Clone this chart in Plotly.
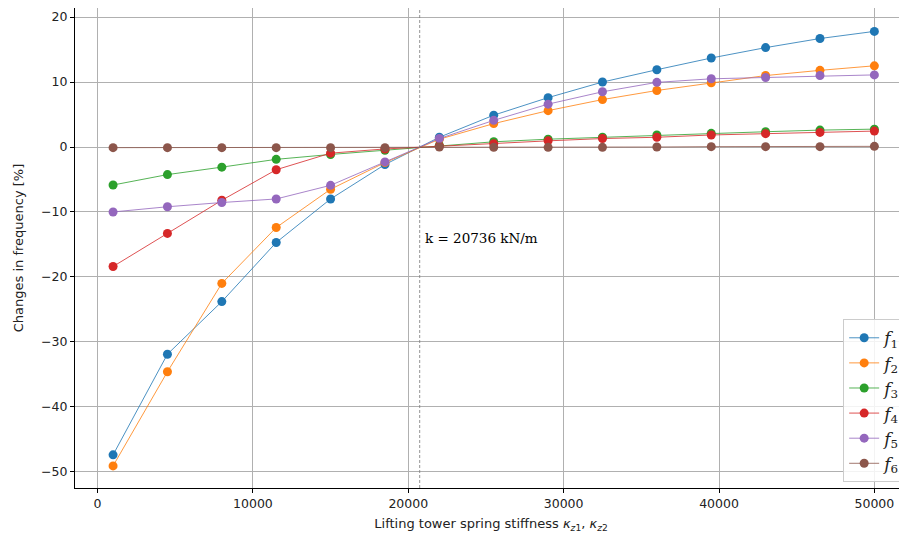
import plotly.graph_objects as go

stiffness = [1000, 4500, 8000, 11500, 15000, 18500, 22000, 25500, 29000, 32500, 36000, 39500, 43000, 46500, 50000]
f1 = [-47.4, -31.9, -23.8, -14.7, -8.0, -2.7, 1.5, 4.9, 7.6, 10.0, 11.9, 13.7, 15.3, 16.7, 17.8]
f2 = [-49.1, -34.6, -21.0, -12.4, -6.5, -2.4, 1.2, 3.6, 5.6, 7.3, 8.7, 9.9, 11.0, 11.8, 12.5]
f3 = [-5.85, -4.25, -3.1, -1.9, -1.15, -0.5, 0.25, 0.8, 1.2, 1.5, 1.85, 2.1, 2.35, 2.6, 2.75]
f4 = [-18.4, -13.3, -8.2, -3.5, -0.95, -0.3, 0.15, 0.5, 0.95, 1.3, 1.5, 1.85, 2.05, 2.25, 2.45]
f5 = [-10.0, -9.2, -8.55, -8.0, -5.9, -2.3, 1.3, 4.1, 6.6, 8.5, 9.95, 10.5, 10.7, 11.0, 11.1]
f6 = [-0.1, -0.1, -0.1, -0.1, -0.1, -0.1, 0.0, -0.05, -0.05, -0.05, 0.0, 0.05, 0.05, 0.05, 0.1]
series = [f1, f2, f3, f4, f5, f6]
names = ["<i>f</i><sub>1</sub>", "<i>f</i><sub>2</sub>", "<i>f</i><sub>3</sub>",
         "<i>f</i><sub>4</sub>", "<i>f</i><sub>5</sub>", "<i>f</i><sub>6</sub>"]
colors = ["#1f77b4", "#ff7f0e", "#2ca02c", "#d62728", "#9467bd", "#8c564b"]
line_colors = ["rgba(31,119,180,0.8)", "rgba(255,127,14,0.8)", "rgba(44,160,44,0.8)",
               "rgba(214,39,40,0.8)", "rgba(148,103,189,0.8)", "rgba(140,86,75,0.8)"]
k_value = 20736
x_ticks = [0, 10000, 20000, 30000, 40000, 50000]
y_ticks = [-50, -40, -30, -20, -10, 0, 10, 20]

fig = go.Figure()
for vals, name, c, lc in zip(series, names, colors, line_colors):
    fig.add_trace(go.Scatter(
        x=stiffness, y=vals, name=name, mode="lines+markers",
        line=dict(color=lc, width=1),
        marker=dict(color=c, size=9),
    ))

fig.add_shape(type="line", x0=k_value, x1=k_value, y0=0, y1=1, xref="x", yref="paper",
              line=dict(color="#777777", width=0.8, dash="3px,2px"), layer="above")
fig.add_annotation(x=k_value, y=-14.0, xref="x", yref="y", text="k = 20736 kN/m",
                   showarrow=False, xanchor="left", xshift=3,
                   font=dict(family="DejaVu Serif", size=13.5, color="black"))

axis_common = dict(
    showgrid=True, gridcolor="#b0b0b0", gridwidth=0.8,
    showline=True, linecolor="black", linewidth=1, mirror=True,
    ticks="outside", ticklen=4, tickcolor="black", zeroline=False,
    tickfont=dict(family="DejaVu Sans", size=12.5, color="#222"),
)
fig.update_xaxes(range=[-1450, 52100], tickvals=x_ticks, ticktext=[str(v) for v in x_ticks],
                 title=dict(text="Lifting tower spring stiffness <i>κ</i><sub><i>z</i>1</sub>, <i>κ</i><sub><i>z</i>2</sub>",
                            font=dict(family="DejaVu Sans", size=13, color="#222"), standoff=10),
                 **axis_common)
fig.update_yaxes(range=[-52.5, 21.4], tickvals=y_ticks,
                 ticktext=[("\u2212" + str(-v)) if v < 0 else str(v) for v in y_ticks],
                 title=dict(text="Changes in frequency [%]",
                            font=dict(family="DejaVu Sans", size=13, color="#222"), standoff=14),
                 **axis_common)

fig.update_layout(
    width=899, height=525,
    margin=dict(l=67, r=0, t=0, b=45, autoexpand=False),
    plot_bgcolor="white", paper_bgcolor="white",
    showlegend=True,
    legend=dict(x=0.999, xanchor="right", y=0.012, yanchor="bottom",
                bgcolor="rgba(255,255,255,0.85)", bordercolor="#cccccc", borderwidth=1,
                font=dict(family="DejaVu Serif", size=17, color="#222"),
                tracegroupgap=0),
)

fig.write_html("out.html")
